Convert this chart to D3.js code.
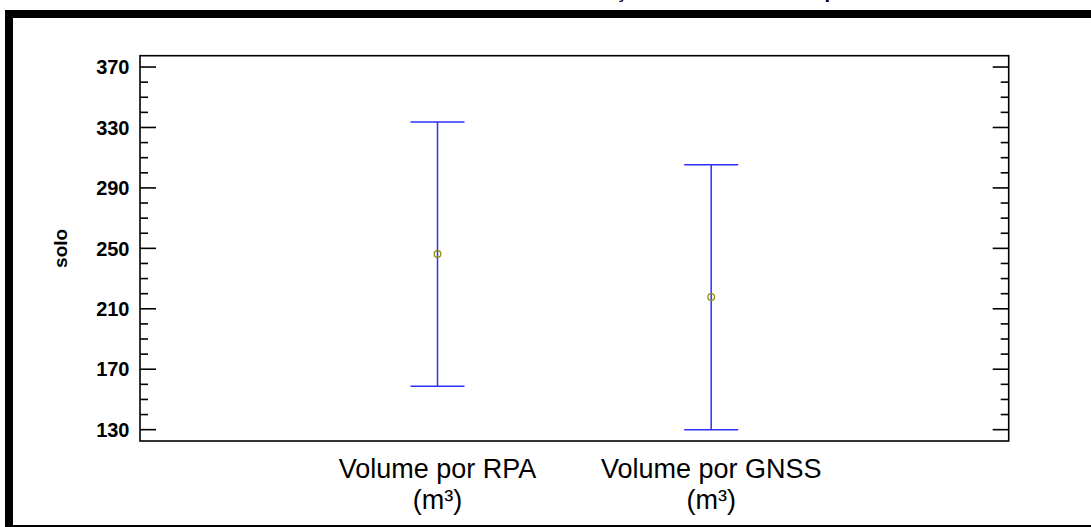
<!DOCTYPE html>
<html>
<head>
<meta charset="utf-8">
<script src="https://cdn.jsdelivr.net/npm/d3@7"></script>
<style>
  body { margin: 0; background: #fff; }
  text { font-family: Arial, "Liberation Sans", sans-serif; }
</style>
</head>
<body>
<div id="container"></div>
<script>
// data
const categories = ["Volume por RPA", "Volume por GNSS"];
const unitLabels = ["(m³)", "(m³)"];
const means = [246.3, 217.8];
const lower = [158.7, 130.0];
const upper = [333.7, 305.3];
const yTicks = [130, 170, 210, 250, 290, 330, 370];
const yMinorTicks = d3.range(130, 371, 10);
const titleText = "Gráfico de média e intervalo de confiança do volume de solo por método";

const widthSVG = 1091,
      heightSVG = 527;

// plot box
const plot = { left: 140, right: 1008.7, top: 55.7, bottom: 441 };

const svg = d3.select("#container")
  .append("svg")
  .attr("width", widthSVG)
  .attr("height", heightSVG);

// thick outer frame (right edge runs off the picture)
svg.append("rect")
  .attr("x", 9).attr("y", 14)
  .attr("width", 1100).attr("height", 515)
  .attr("fill", "none")
  .attr("stroke", "#000")
  .attr("stroke-width", 8);

// title, mostly cut off at the top edge
svg.append("text")
  .attr("x", (plot.left + plot.right) / 2 + 14)
  .attr("y", -2)
  .attr("text-anchor", "middle")
  .style("font-size", "20px")
  .style("font-weight", "bold")
  .text(titleText);

const x = d3.scalePoint()
  .domain(categories)
  .range([plot.left, plot.right])
  .padding(1.087);

const y = d3.scaleLinear()
  .domain([122.5, 377.5])
  .range([plot.bottom, plot.top]);

// plot border
svg.append("rect")
  .attr("x", plot.left).attr("y", plot.top)
  .attr("width", plot.right - plot.left)
  .attr("height", plot.bottom - plot.top)
  .attr("fill", "none")
  .attr("stroke", "#000")
  .attr("stroke-width", 1.6);

// left ticks pointing inward
const leftAxis = svg.append("g").attr("transform", `translate(${plot.left},0)`);
leftAxis.selectAll("line")
  .data(yMinorTicks)
  .enter().append("line")
  .attr("x1", 0)
  .attr("x2", (d) => yTicks.includes(d) ? 16 : 8)
  .attr("y1", (d) => y(d)).attr("y2", (d) => y(d))
  .attr("stroke", "#000")
  .attr("stroke-width", 1.6);

leftAxis.selectAll("text")
  .data(yTicks)
  .enter().append("text")
  .attr("x", -10.5)
  .attr("y", (d) => y(d))
  .attr("dy", "0.36em")
  .attr("text-anchor", "end")
  .style("font-size", "20px")
  .style("font-weight", "bold")
  .text((d) => d);

// right ticks pointing inward
const rightAxis = svg.append("g").attr("transform", `translate(${plot.right},0)`);
rightAxis.selectAll("line")
  .data(yMinorTicks)
  .enter().append("line")
  .attr("x1", 0)
  .attr("x2", (d) => yTicks.includes(d) ? -16 : -8)
  .attr("y1", (d) => y(d)).attr("y2", (d) => y(d))
  .attr("stroke", "#000")
  .attr("stroke-width", 1.6);

// y axis title
svg.append("text")
  .attr("transform", `translate(67, ${y(250)}) rotate(-90)`)
  .attr("text-anchor", "middle")
  .style("font-size", "19px")
  .style("font-weight", "bold")
  .text("solo");

// x category labels, two lines each
const xLabels = svg.append("g");
xLabels.selectAll("text.cat")
  .data(categories)
  .enter().append("text")
  .attr("class", "cat")
  .attr("x", (d) => x(d))
  .attr("y", 478)
  .attr("text-anchor", "middle")
  .style("font-size", "27px")
  .text((d) => d);

xLabels.selectAll("text.unit")
  .data(categories)
  .enter().append("text")
  .attr("class", "unit")
  .attr("x", (d) => x(d))
  .attr("y", 509)
  .attr("text-anchor", "middle")
  .style("font-size", "27px")
  .text((d, i) => unitLabels[i]);

// interval bars
const capHalf = 27;
const bars = svg.append("g")
  .selectAll("g")
  .data(categories)
  .enter().append("g");

bars.append("line")
  .attr("x1", (d) => x(d)).attr("x2", (d) => x(d))
  .attr("y1", (d, i) => y(upper[i])).attr("y2", (d, i) => y(lower[i]))
  .attr("stroke", "#2f2fff")
  .attr("stroke-width", 1.5);

bars.append("line")
  .attr("x1", (d) => x(d) - capHalf).attr("x2", (d) => x(d) + capHalf)
  .attr("y1", (d, i) => y(upper[i])).attr("y2", (d, i) => y(upper[i]))
  .attr("stroke", "#2f2fff")
  .attr("stroke-width", 1.5);

bars.append("line")
  .attr("x1", (d) => x(d) - capHalf).attr("x2", (d) => x(d) + capHalf)
  .attr("y1", (d, i) => y(lower[i])).attr("y2", (d, i) => y(lower[i]))
  .attr("stroke", "#2f2fff")
  .attr("stroke-width", 1.5);

// mean markers
bars.append("circle")
  .attr("cx", (d) => x(d))
  .attr("cy", (d, i) => y(means[i]))
  .attr("r", 3.3)
  .attr("fill", "none")
  .attr("stroke", "#8f8f00")
  .attr("stroke-width", 1.3);
</script>
</body>
</html>
